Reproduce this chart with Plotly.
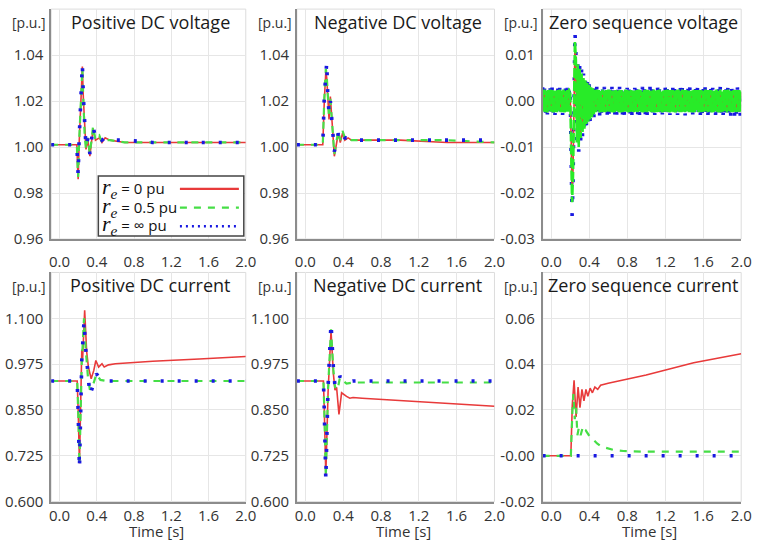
import numpy as np
import plotly.graph_objects as go

W, H = 763, 550

# ---------------- axes / labels ----------------
X_RANGE = [-0.09, 2.0]
X_TICKS = [0.0, 0.4, 0.8, 1.2, 1.6, 2.0]
X_TICKTEXT = ["0.0", "0.4", "0.8", "1.2", "1.6", "2.0"]
X_TITLE = "Time [s]"
Y_UNIT = "[p.u.]"

PANEL_TITLES = ["Positive DC voltage", "Negative DC voltage", "Zero sequence voltage",
                "Positive DC current", "Negative DC current", "Zero sequence current"]

V_RANGE = [0.96, 1.06]
V_TICKS = [0.96, 0.98, 1.00, 1.02, 1.04]
V_TICKTEXT = ["0.96", "0.98", "1.00", "1.02", "1.04"]

ZV_RANGE = [-0.03, 0.02]
ZV_TICKS = [-0.03, -0.02, -0.01, 0.0, 0.01]
ZV_TICKTEXT = ["-0.03", "-0.02", "-0.01", "0.00", "0.01"]

I_RANGE = [0.6, 1.225]
I_TICKS = [0.600, 0.725, 0.850, 0.975, 1.100]
I_TICKTEXT = ["0.600", "0.725", "0.850", "0.975", "1.100"]

ZI_RANGE = [-0.02, 0.08]
ZI_TICKS = [-0.02, 0.0, 0.02, 0.04, 0.06]
ZI_TICKTEXT = ["-0.02", "-0.00", "0.02", "0.04", "0.06"]

LEGEND_VALUES = ["0", "0.5", "∞"]

# ---------------- Positive DC voltage ----------------
VP_T = [-0.09, 0.186, 0.195, 0.200, 0.210, 0.228, 0.245, 0.256, 0.270, 0.284, 0.305,
        0.326, 0.360, 0.386, 0.428, 0.456, 0.490, 0.540, 0.700, 1.000, 1.500, 2.000]
VP_RED = [1.001, 1.001, 0.990, 0.986, 1.001, 1.020, 1.035, 1.021, 1.006, 0.999, 1.003,
          0.996, 1.008, 1.003, 1.004, 1.002, 1.004, 1.003, 1.002, 1.002, 1.002, 1.002]
VP_GREEN = [1.001, 1.001, 0.991, 0.987, 1.002, 1.022, 1.034, 1.020, 1.005, 0.999, 1.004,
            0.997, 1.009, 1.003, 1.005, 1.002, 1.003, 1.003, 1.002, 1.002, 1.002, 1.002]
VP_BLUE = [1.001, 1.001, 0.992, 0.988, 1.003, 1.024, 1.036, 1.022, 1.006, 1.000, 1.004,
           0.997, 1.009, 1.004, 1.005, 1.003, 1.004, 1.003, 1.003, 1.002, 1.002, 1.002]

# ---------------- Negative DC voltage ----------------
VN_T = [-0.09, 0.184, 0.200, 0.216, 0.226, 0.237, 0.250, 0.264, 0.278, 0.292, 0.306,
        0.323, 0.348, 0.369, 0.393, 0.417, 0.452, 0.487, 0.600, 1.000, 1.500, 2.000]
VN_RED = [1.001, 1.001, 1.020, 1.033, 1.030, 1.019, 1.012, 1.022, 1.011, 1.005, 0.996,
          1.000, 1.006, 1.002, 1.006, 1.003, 1.004, 1.003, 1.003, 1.003, 1.002, 1.002]
VN_GREEN = [1.001, 1.001, 1.021, 1.034, 1.031, 1.021, 1.013, 1.021, 1.012, 1.006, 0.997,
            1.001, 1.007, 1.003, 1.007, 1.004, 1.004, 1.003, 1.003, 1.003, 1.003, 1.002]
VN_BLUE = [1.001, 1.001, 1.022, 1.034, 1.037, 1.022, 1.015, 1.020, 1.013, 1.006, 0.998,
           1.001, 1.006, 1.003, 1.005, 1.004, 1.004, 1.003, 1.003, 1.003, 1.003, 1.003]

# ---------------- Zero sequence voltage (sampled every 10 ms, values in 1e-3 p.u.) ----------------
ZV_T0 = -0.09
ZV_DT = 0.01
ZV_RED_MILLI = [
    1.6, -1.5, 1.7, -1.6, 1.5, -1.6, 1.6, -1.7, 1.5, -1.6,
    1.7, -1.5, 1.6, -1.6, 1.5, -1.7, 1.6, -1.5, 1.6, -1.6,
    1.7, -1.6, 1.5, -1.5, 1.6, -1.7, 1.6, -1.6, 1.5,
    1.5, -8, -20, -15, 4, 12, 8, -8, 7, -9,
    6, -7, 5, -6, 4, -5, 3.5, -4, 3, -3.5,
    2.5, -3, 2, -2.5, 1.8, -2,
    1.7, -1.6, 1.8, -1.5, 1.6, -1.7, 1.5, -1.6, 1.8, -1.6,
    1.6, -1.7, 1.5, -1.8, 1.7, -1.6, 1.6, -1.5, 1.7, -1.7,
    1.8, -1.6, 1.6, -1.7, 1.5, -1.6, 1.7, -1.8, 1.6, -1.5,
    1.5, -1.7, 1.7, -1.6, 1.8, -1.5, 1.6, -1.6, 1.7, -1.8,
    1.6, -1.5, 1.8, -1.7, 1.6, -1.6, 1.5, -1.7, 1.8, -1.6,
    1.7, -1.8, 1.6, -1.5, 1.7, -1.6, 1.8, -1.6, 1.5, -1.7,
    1.6, -1.6, 1.7, -1.8, 1.5, -1.7, 1.6, -1.5, 1.8, -1.6,
    1.8, -1.7, 1.5, -1.6, 1.7, -1.6, 1.6, -1.8, 1.7, -1.5,
    1.6, -1.5, 1.8, -1.7, 1.6, -1.7, 1.5, -1.6, 1.7, -1.8,
    1.7, -1.6, 1.6, -1.5, 1.8, -1.7, 1.7, -1.6, 1.6, -1.7,
    1.5, -1.8, 1.7, -1.6, 1.6, -1.5, 1.8, -1.7, 1.6, -1.6,
    1.8, -1.6, 1.5, -1.7, 1.7, -1.8, 1.6, -1.5, 1.7, -1.6,
    1.6, -1.7, 1.8, -1.6, 1.5, -1.6, 1.7, -1.7, 1.8, -1.5,
    1.7, -1.5, 1.6, -1.8, 1.7, -1.6, 1.8, -1.6, 1.6, -1.7,
    1.9, -1.6, 1.8, -1.7, 2.0, -1.6, 1.9, -1.7, 2.0, -1.6,
    1.9, -1.7, 2.0, -1.6, 1.9,
]
ZV_GREEN_MILLI = [
    2.4, -2.3, 2.5, -2.4, 2.3, -2.5, 2.4, -2.4, 2.5, -2.3,
    2.4, -2.5, 2.3, -2.4, 2.5, -2.4, 2.4, -2.3, 2.5, -2.4,
    2.3, -2.4, 2.5, -2.5, 2.4, -2.3, 2.4, -2.4, 2.5,
    2.5, -10, -22, -16, 5, 13, 9, -9, 8, -10,
    7, -8, 6, -7, 5, -6, 4.5, -5, 4, -4.5,
    3.5, -4, 3, -3.5, 2.8, -3,
    2.4, -2.4, 2.5, -2.3, 2.4, -2.5, 2.3, -2.4, 2.5, -2.4,
    2.3, -2.4, 2.4, -2.5, 2.5, -2.3, 2.4, -2.4, 2.3, -2.5,
    2.5, -2.4, 2.4, -2.3, 2.3, -2.4, 2.5, -2.5, 2.4, -2.4,
    2.4, -2.3, 2.5, -2.4, 2.4, -2.5, 2.3, -2.4, 2.4, -2.3,
    2.5, -2.4, 2.3, -2.5, 2.4, -2.4, 2.5, -2.3, 2.4, -2.4,
    2.3, -2.5, 2.4, -2.4, 2.5, -2.4, 2.4, -2.3, 2.3, -2.4,
    2.4, -2.4, 2.5, -2.5, 2.3, -2.4, 2.4, -2.4, 2.5, -2.3,
    2.4, -2.5, 2.3, -2.4, 2.4, -2.3, 2.5, -2.4, 2.4, -2.5,
    2.5, -2.3, 2.4, -2.4, 2.3, -2.5, 2.4, -2.4, 2.5, -2.4,
    2.3, -2.4, 2.5, -2.3, 2.4, -2.4, 2.4, -2.5, 2.3, -2.4,
    2.4, -2.4, 2.3, -2.5, 2.5, -2.4, 2.4, -2.3, 2.4, -2.4,
    2.5, -2.4, 2.4, -2.4, 2.3, -2.3, 2.5, -2.5, 2.4, -2.4,
    2.4, -2.3, 2.4, -2.5, 2.4, -2.4, 2.3, -2.4, 2.5, -2.4,
    2.3, -2.5, 2.5, -2.4, 2.4, -2.3, 2.4, -2.4, 2.4, -2.5,
    2.5, -2.4, 2.3, -2.4, 2.5, -2.4, 2.4, -2.3, 2.4, -2.4,
    2.4, -2.5, 2.4, -2.3, 2.5,
]
ZV_BLUE_MILLI = [
    3.0, -3.0, 2.9, -3.1, 3.0, -2.9, 3.1, -3.0, 2.9, -3.0,
    3.0, -3.1, 2.9, -3.0, 3.1, -2.9, 3.0, -3.0, 2.9, -3.1,
    3.0, -3.0, 3.1, -2.9, 3.0, -3.0, 2.9, -3.0, 3.0,
    3.0, -12, -25, -18, 6, 15, 11, -10, 9, -11,
    8, -9, 7, -8, 6, -7, 5, -6, 5, -5,
    4, -4.5, 3.5, -4, 3.2, -3.5,
    3.0, -2.9, 3.1, -3.0, 2.9, -3.1, 3.0, -2.9, 3.0, -3.0,
    3.1, -3.0, 2.9, -3.0, 3.0, -3.1, 2.9, -3.0, 3.1, -2.9,
    3.0, -3.0, 2.9, -3.1, 3.0, -3.0, 3.1, -2.9, 3.0, -3.0,
    2.9, -3.0, 3.0, -3.1, 2.9, -3.0, 3.1, -2.9, 3.0, -3.0,
    3.0, -3.1, 2.9, -3.0, 3.1, -3.0, 2.9, -3.0, 3.0, -2.9,
    3.1, -3.0, 3.0, -3.1, 2.9, -3.0, 3.0, -2.9, 3.1, -3.0,
    2.9, -3.0, 3.0, -3.0, 3.1, -2.9, 3.0, -3.1, 2.9, -3.0,
    3.0, -2.9, 3.1, -3.0, 3.0, -3.1, 2.9, -3.0, 3.0, -3.0,
    3.1, -3.0, 2.9, -3.1, 3.0, -2.9, 3.0, -3.0, 3.1, -2.9,
    3.0, -3.0, 2.9, -3.0, 3.1, -3.1, 3.0, -2.9, 2.9, -3.0,
    3.0, -3.1, 3.1, -2.9, 3.0, -3.0, 2.9, -3.1, 3.0, -3.0,
    2.9, -3.0, 3.0, -2.9, 3.1, -3.0, 3.0, -3.1, 2.9, -3.0,
    3.1, -2.9, 3.0, -3.0, 2.9, -3.1, 3.0, -3.0, 3.1, -2.9,
    3.0, -3.0, 3.1, -3.1, 2.9, -3.0, 3.0, -2.9, 3.0, -3.1,
    2.9, -3.2, 3.0, -3.2, 3.1, -3.3, 3.0, -3.2, 2.9, -3.3,
    3.0, -3.3, 3.1, -3.2, 3.0,
]

# ---------------- Positive DC current ----------------
IP_RED_T = [-0.09, 0.190, 0.200, 0.214, 0.239, 0.248, 0.270, 0.291, 0.310, 0.340, 0.368,
            0.390, 0.420, 0.456, 0.480, 0.526, 0.600, 1.000, 1.500, 2.000]
IP_RED = [0.929, 0.929, 0.850, 0.705, 1.015, 0.990, 1.122, 1.010, 0.967, 0.935, 0.958,
          0.985, 0.967, 0.976, 0.967, 0.973, 0.976, 0.983, 0.989, 0.996]
IP_GB_T = [-0.09, 0.190, 0.200, 0.214, 0.239, 0.263, 0.280, 0.305, 0.326, 0.368, 0.396,
           0.439, 0.500, 1.000, 2.000]
IP_GREEN = [0.929, 0.929, 0.850, 0.700, 0.980, 1.100, 1.020, 0.940, 0.905, 0.925, 0.948,
            0.932, 0.929, 0.929, 0.929]
IP_BLUE = [0.929, 0.929, 0.845, 0.690, 0.985, 1.092, 1.020, 0.945, 0.891, 0.922, 0.949,
           0.933, 0.929, 0.929, 0.929]

# ---------------- Negative DC current ----------------
IN_RED_T = [-0.09, 0.191, 0.200, 0.216, 0.240, 0.271, 0.296, 0.313, 0.330, 0.355, 0.383,
            0.410, 0.435, 0.470, 0.504, 0.600, 1.000, 1.500, 2.000]
IN_RED = [0.929, 0.929, 0.850, 0.673, 0.900, 1.065, 0.949, 0.904, 0.912, 0.838, 0.897,
          0.891, 0.887, 0.882, 0.884, 0.882, 0.876, 0.869, 0.860]
IN_GB_T = [-0.09, 0.191, 0.200, 0.216, 0.240, 0.271, 0.296, 0.313, 0.340, 0.365, 0.400,
           0.435, 0.500, 1.000, 2.000]
IN_GREEN = [0.929, 0.929, 0.850, 0.668, 0.910, 1.070, 0.960, 0.913, 0.905, 0.938, 0.929,
            0.922, 0.925, 0.925, 0.925]
IN_BLUE = [0.929, 0.929, 0.845, 0.660, 0.915, 1.087, 0.965, 0.915, 0.913, 0.942, 0.932,
           0.925, 0.929, 0.929, 0.929]

# ---------------- Zero sequence current ----------------
IZ_RED_T = [-0.09, 0.207, 0.222, 0.241, 0.262, 0.283, 0.303, 0.324, 0.345, 0.366, 0.386,
            0.410, 0.434, 0.460, 0.490, 0.520, 0.600, 1.000, 1.500, 2.000]
IZ_RED = [0.000, 0.000, 0.022, 0.033, 0.017, 0.030, 0.021, 0.029, 0.024, 0.029, 0.026,
          0.0295, 0.0275, 0.030, 0.029, 0.0308, 0.0317, 0.0353, 0.0406, 0.0445]
IZ_GREEN_T = [-0.09, 0.207, 0.222, 0.234, 0.248, 0.262, 0.276, 0.290, 0.310, 0.328, 0.345,
              0.365, 0.397, 0.440, 0.483, 0.530, 0.586, 0.660, 0.760, 1.000, 1.500, 2.000]
IZ_GREEN = [0.000, 0.000, 0.018, 0.027, 0.016, 0.021, 0.009, 0.012, 0.009, 0.0118, 0.010,
            0.011, 0.009, 0.007, 0.0054, 0.004, 0.0033, 0.0025, 0.0021, 0.0018, 0.0018, 0.0018]
IZ_BLUE_T = [-0.09, 2.000]
IZ_BLUE = [0.000, 0.000]

# ---------------- styles ----------------
RED = "rgb(232,58,58)"
GREEN = "rgb(70,222,70)"
BAND_GREEN = "rgb(40,235,40)"
BLUE = "rgb(25,25,225)"
FONT = "Open Sans, Arial, sans-serif"
TXT = "#222222"

red_line = dict(color=RED, width=1.6)
green_line = dict(color=GREEN, width=2.2, dash="7px,7px")
blue_line = dict(color=BLUE, width=3.6, dash="3px,14px")
band_green_line = dict(color=BAND_GREEN, width=2.6, dash="10px,3px")


def fx(p):
    return p / W


def fy(p):
    return 1 - p / H


COLS = [(50, 248), (300, 501), (550, 752)]
ROWS = [(9.25, 243), (277, 510)]
X_LABEL_STANDOFF = [8, 0]

panel_y = [
    (V_RANGE, V_TICKS, V_TICKTEXT),
    (V_RANGE, V_TICKS, V_TICKTEXT),
    (ZV_RANGE, ZV_TICKS, ZV_TICKTEXT),
    (I_RANGE, I_TICKS, I_TICKTEXT),
    (I_RANGE, I_TICKS, I_TICKTEXT),
    (ZI_RANGE, ZI_TICKS, ZI_TICKTEXT),
]

fig = go.Figure()
layout = dict(
    width=W, height=H, margin=dict(l=0, r=0, t=0, b=0, pad=0),
    paper_bgcolor="white", plot_bgcolor="white", showlegend=False,
    font=dict(family=FONT, color=TXT),
)
shapes = []
annotations = []

for i in range(6):
    r, c = divmod(i, 3)
    n = "" if i == 0 else str(i + 1)
    (c0, c1), (r0, r1) = COLS[c], ROWS[r]
    yr, yt, ytt = panel_y[i]
    layout["xaxis" + n] = dict(
        domain=[fx(c0), fx(c1)], anchor="y" + n, range=X_RANGE,
        tickmode="array", tickvals=X_TICKS, ticktext=X_TICKTEXT,
        showgrid=True, gridcolor="#e6e6e6", gridwidth=1, zeroline=False,
        showline=True, linecolor="#8c8c8c", linewidth=1.6, ticks="",
        tickfont=dict(size=15, color="#333333", family=FONT),
        ticklabelstandoff=X_LABEL_STANDOFF[r], fixedrange=True,
    )
    layout["yaxis" + n] = dict(
        domain=[fy(r1), fy(r0)], anchor="x" + n, range=yr,
        tickmode="array", tickvals=yt, ticktext=ytt,
        showgrid=True, gridcolor="#e6e6e6", gridwidth=1, zeroline=False,
        showline=True, linecolor="#8c8c8c", linewidth=1.6, ticks="",
        tickfont=dict(size=15, color="#333333", family=FONT), ticklabelstandoff=3,
        fixedrange=True,
    )
    shapes.append(dict(type="rect", xref="x" + n + " domain", yref="y" + n + " domain",
                       x0=0, x1=1, y0=0, y1=1, line=dict(color="#dcdcdc", width=1),
                       layer="below"))
    annotations.append(dict(text=PANEL_TITLES[i], xref="paper", yref="paper",
                            x=fx((c0 + c1) / 2 + 2), y=fy(r0 + 13), xanchor="center",
                            yanchor="middle", showarrow=False,
                            font=dict(size=18, color="#1a1a1a", family=FONT)))
    annotations.append(dict(text=Y_UNIT, xref="paper", yref="paper",
                            x=fx(c0 - 3), y=fy(r0 + 14), xanchor="right",
                            yanchor="middle", showarrow=False,
                            font=dict(size=14, color="#333333", family=FONT)))
    if r == 1:
        annotations.append(dict(text=X_TITLE, xref="paper", yref="paper",
                                x=fx((c0 + c1) / 2 + 8), y=fy(540), xanchor="center",
                                yanchor="middle", showarrow=False, borderpad=0,
                                font=dict(size=15, color="#333333", family=FONT)))


def add(n, x, y, line):
    fig.add_trace(go.Scatter(x=x, y=y, mode="lines", line=line,
                             xaxis="x" + n, yaxis="y" + n, hoverinfo="skip"))


def add_sampled(n, y, line):
    fig.add_trace(go.Scatter(x0=ZV_T0, dx=ZV_DT, y=y, mode="lines", line=line,
                             xaxis="x" + n, yaxis="y" + n, hoverinfo="skip"))


# panel 1
add("", VP_T, VP_RED, red_line)
add("", VP_T, VP_GREEN, green_line)
add("", VP_T, VP_BLUE, blue_line)
# panel 2
add("2", VN_T, VN_RED, red_line)
add("2", VN_T, VN_GREEN, green_line)
add("2", VN_T, VN_BLUE, blue_line)
# panel 3
add_sampled("3", np.array(ZV_BLUE_MILLI) * 1e-3, blue_line)
add_sampled("3", np.array(ZV_RED_MILLI) * 1e-3, red_line)
add_sampled("3", np.array(ZV_GREEN_MILLI) * 1e-3, band_green_line)
# panel 4
add("4", IP_RED_T, IP_RED, red_line)
add("4", IP_GB_T, IP_GREEN, green_line)
add("4", IP_GB_T, IP_BLUE, blue_line)
# panel 5
add("5", IN_RED_T, IN_RED, red_line)
add("5", IN_GB_T, IN_GREEN, green_line)
add("5", IN_GB_T, IN_BLUE, blue_line)
# panel 6
add("6", IZ_RED_T, IZ_RED, red_line)
add("6", IZ_GREEN_T, IZ_GREEN, green_line)
add("6", IZ_BLUE_T, IZ_BLUE, blue_line)

# ---------------- manual legend (text left, line sample right) ----------------
LEG_BOX = (98, 246, 179, 240)
LEG_ROWS = [191, 210, 229]
shapes.append(dict(type="rect", xref="paper", yref="paper",
                   x0=fx(LEG_BOX[0]), x1=fx(LEG_BOX[1]), y0=fy(LEG_BOX[3]), y1=fy(LEG_BOX[2]),
                   line=dict(color="#444444", width=1.5), fillcolor="white", layer="above"))
leg_lines = [dict(color=RED, width=2.2),
             dict(color=GREEN, width=2.2, dash="7px,7px"),
             dict(color=BLUE, width=2.6, dash="2px,4px")]
for yrow, val, ln in zip(LEG_ROWS, LEGEND_VALUES, leg_lines):
    shapes.append(dict(type="line", xref="paper", yref="paper",
                       x0=fx(181), x1=fx(241), y0=fy(yrow + 1), y1=fy(yrow + 1), line=ln))
    annotations.append(dict(
        text='<span style="font-family:Liberation Serif, DejaVu Serif, serif;font-size:22px">'
             '<i>r</i><sub><i>e</i></sub></span> = ' + val + ' pu',
        xref="paper", yref="paper", x=fx(100), y=fy(yrow), xanchor="left", yanchor="middle",
        showarrow=False, font=dict(size=15, color="#111111", family=FONT)))

layout["shapes"] = shapes
layout["annotations"] = annotations
fig.update_layout(**layout)
fig.write_html("out.html")
